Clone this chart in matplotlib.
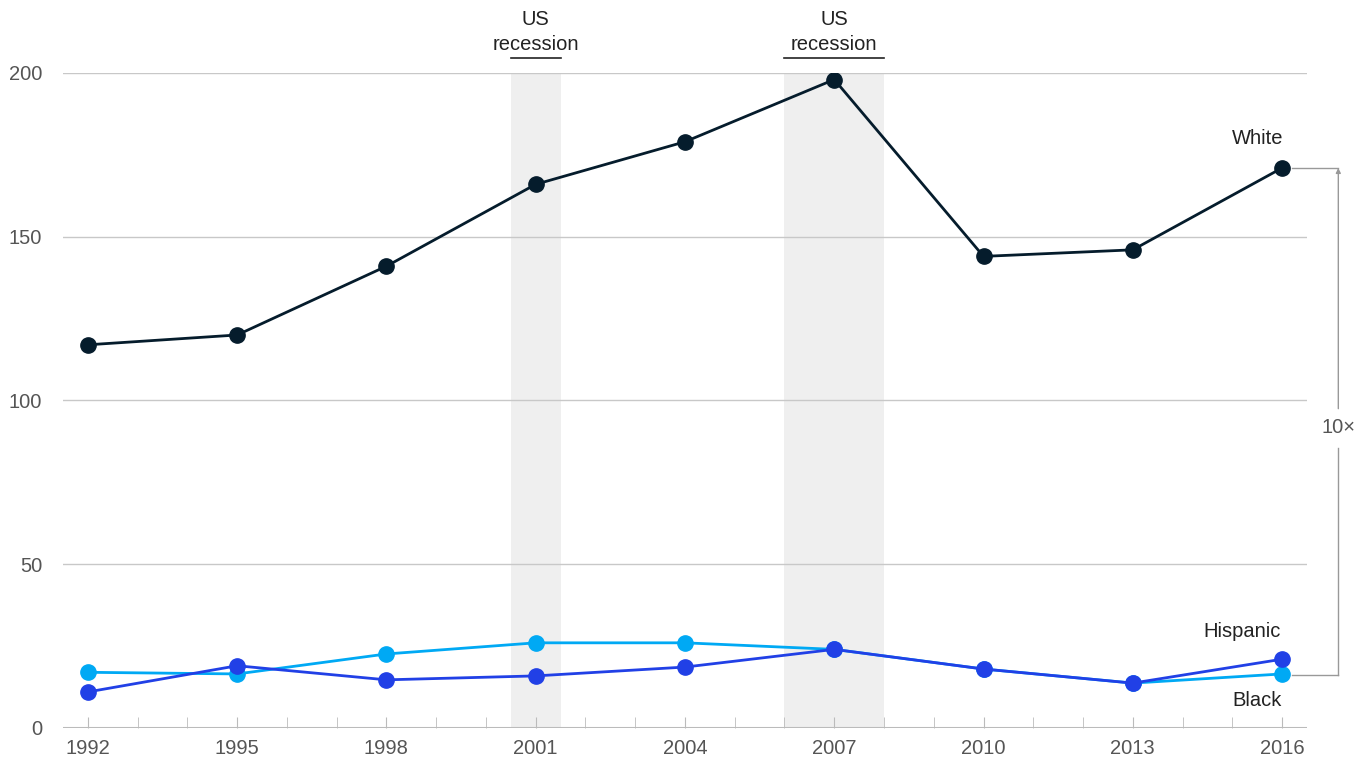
import matplotlib.pyplot as plt
import numpy as np

plt.rcParams['font.family'] = ['Liberation Sans', 'DejaVu Sans']

years = [1992, 1995, 1998, 2001, 2004, 2007, 2010, 2013, 2016]
white = [117, 120, 141, 166, 179, 198, 144, 146, 171]
light = [17, 16.5, 22.6, 26, 26, 24, 18, 13.7, 16.5]
dark = [11, 19, 14.7, 15.9, 18.6, 24, 18, 13.7, 21]
recessions = [(2000.5, 2001.5), (2006, 2008)]
yticks = [0, 50, 100, 150, 200]

c_white = '#051c2c'
c_light = '#00a9f4'
c_dark = '#2140e6'
grey = '#555555'
fs = 14.5

fig = plt.figure(figsize=(13.72, 7.61), dpi=100)
ax = fig.add_axes([0.0459, 0.0434, 0.9067, 0.8607])

for a, b in recessions:
    ax.axvspan(a, b, color='#efefef', zorder=0, lw=0)
    ax.plot([a, b], [204.6, 204.6], color='#222222', lw=1.2, clip_on=False)
    ax.text((a + b) / 2, 205.9, 'US\nrecession', ha='center', va='bottom',
            fontsize=fs, color='#222222', linespacing=1.4)

for y in yticks[1:]:
    ax.axhline(y, color='#c8c8c8', lw=1, zorder=1)
ax.axhline(0, color='#bbbbbb', lw=1.5, zorder=1)

ms = 11
ax.plot(years, light, color=c_light, lw=2, marker='o', ms=ms, zorder=3)
ax.plot(years, dark, color=c_dark, lw=2, marker='o', ms=ms, zorder=4)
ax.plot(years, white, color=c_white, lw=2, marker='o', ms=ms, zorder=5)

ax.text(2015.5, 180, 'White', ha='center', va='center', fontsize=fs, color='#222222')
ax.text(2015.2, 29.4, 'Hispanic', ha='center', va='center', fontsize=fs, color='#222222')
ax.text(2015.5, 8.5, 'Black', ha='center', va='center', fontsize=fs, color='#222222')

# 10x bracket
bx = 2017.13
ax.plot([2016.2, bx], [white[-1], white[-1]], color='#999999', lw=1, clip_on=False)
ax.plot([2016.2, bx], [16.3, 16.3], color='#999999', lw=1, clip_on=False)
ax.plot([bx, bx], [16.3, 85.5], color='#999999', lw=1, clip_on=False)
ax.annotate('', xy=(bx, white[-1]), xytext=(bx, 97.5),
            arrowprops=dict(arrowstyle='-|>', color='#999999', lw=1,
                            mutation_scale=7, shrinkA=0, shrinkB=0),
            annotation_clip=False)
ax.text(bx, 91.6, '10×', ha='center', va='center', fontsize=fs, color=grey)

ax.set_xlim(1991.5, 2016.5)
ax.set_ylim(0, 200)
ax.set_yticks(yticks)
ax.set_xticks(years)
ax.set_xticks(np.arange(1992, 2017), minor=True)
for s in ax.spines.values():
    s.set_visible(False)
ax.tick_params(axis='y', length=0, labelsize=fs, labelcolor=grey, pad=15)
ax.tick_params(axis='x', which='both', direction='in', length=8, color='#bbbbbb',
               labelsize=fs, labelcolor=grey, pad=8)

fig.savefig('out.png', dpi=100)
